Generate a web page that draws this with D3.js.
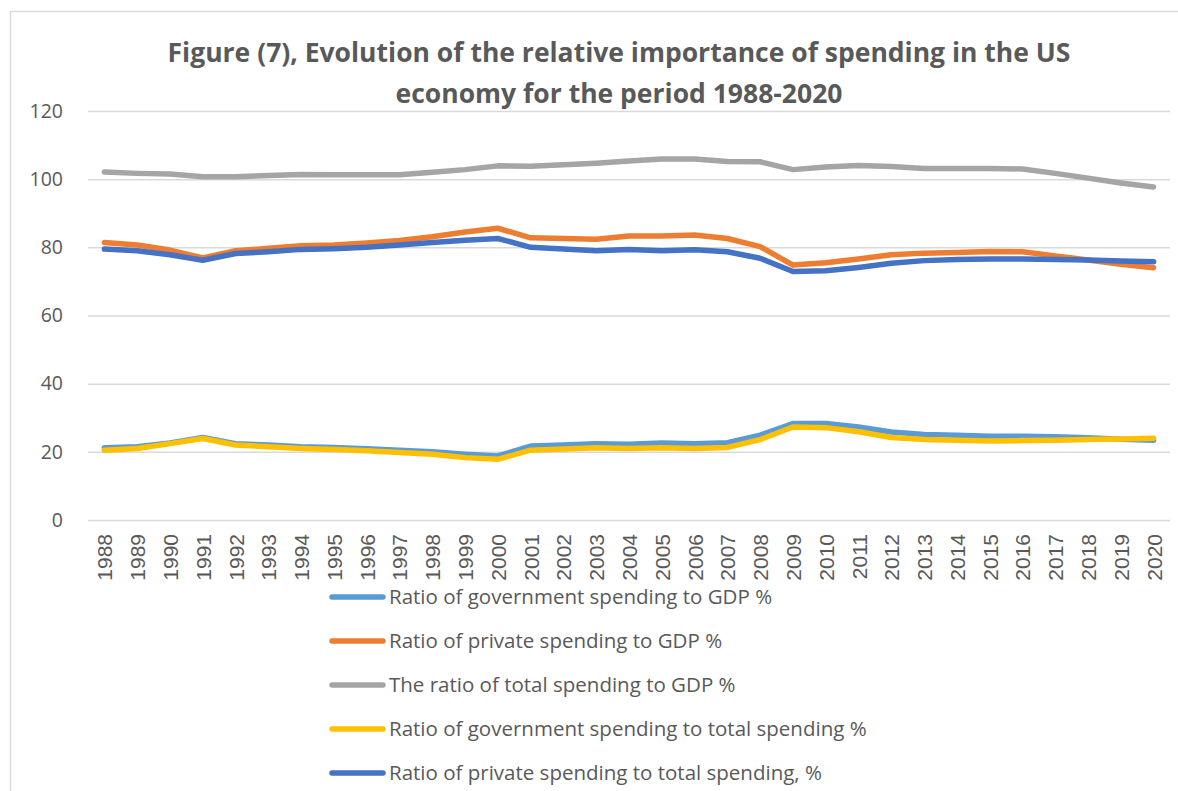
<!DOCTYPE html>
<html>
<head>
<meta charset="utf-8">
<script src="https://cdn.jsdelivr.net/npm/d3@7"></script>
<style>
  html, body { margin: 0; padding: 0; background: #fff; }
  svg { display: block; }
</style>
</head>
<body>
<svg id="chart" width="1178" height="791"></svg>
<script>
// Years on the category axis
const years = d3.range(1988, 2021).map(String);

// Ratio of government spending to GDP %
const govToGdp = [21.2, 21.5, 22.6, 24.2, 22.4, 22.0, 21.5, 21.3, 20.9, 20.5, 20.0, 19.3, 18.8,
  21.7, 22.0, 22.4, 22.2, 22.6, 22.4, 22.7, 24.9, 28.3, 28.3, 27.3, 25.8, 25.1, 24.9, 24.6, 24.6,
  24.4, 24.1, 23.7, 23.4];

// Ratio of private spending to GDP %
const privToGdp = [81.4, 80.7, 79.2, 76.9, 79.0, 79.7, 80.5, 80.7, 81.3, 82.0, 83.1, 84.5, 85.6,
  82.8, 82.6, 82.4, 83.3, 83.3, 83.6, 82.6, 80.2, 74.8, 75.5, 76.6, 77.8, 78.3, 78.5, 78.8, 78.7,
  77.5, 76.3, 75.0, 74.0];

// The ratio of total spending to GDP %
const totalToGdp = [102.1, 101.7, 101.5, 100.7, 100.7, 101.1, 101.4, 101.3, 101.3, 101.3, 102.0,
  102.8, 103.9, 103.8, 104.2, 104.7, 105.3, 105.9, 105.9, 105.2, 105.1, 102.8, 103.6, 104.0, 103.7,
  103.1, 103.1, 103.1, 103.0, 101.7, 100.3, 98.9, 97.7];

// Ratio of government spending to total spending %
const govToTotal = [20.5, 21.0, 22.4, 23.9, 22.0, 21.5, 21.0, 20.7, 20.3, 19.8, 19.3, 18.3, 17.8,
  20.5, 20.8, 21.2, 21.0, 21.2, 21.0, 21.3, 23.6, 27.3, 27.1, 25.9, 24.2, 23.6, 23.4, 23.2, 23.3,
  23.4, 23.6, 23.8, 24.0];

// Ratio of private spending to total spending, %
const privToTotal = [79.5, 79.0, 77.8, 76.2, 78.2, 78.7, 79.4, 79.6, 80.0, 80.7, 81.4, 82.1, 82.6,
  80.0, 79.5, 79.0, 79.4, 79.0, 79.3, 78.7, 76.8, 72.9, 73.1, 74.1, 75.3, 76.1, 76.4, 76.6, 76.6,
  76.4, 76.3, 76.0, 75.8];

const seriesNames = [
  "Ratio of government spending to GDP %",
  "Ratio of private spending to GDP %",
  "The ratio of total spending to GDP %",
  "Ratio of government spending to total spending %",
  "Ratio of private spending to total spending, %"
];
const seriesColors = ["#5B9BD5", "#ED7D31", "#A5A5A5", "#FFC000", "#4472C4"];
const yTicks = [0, 20, 40, 60, 80, 100, 120];
const titleLines = [
  "Figure (7), Evolution of the relative importance of spending in the US",
  "economy for the period 1988-2020"
];

const series = [govToGdp, privToGdp, totalToGdp, govToTotal, privToTotal].map((values, i) => ({
  name: seriesNames[i],
  color: seriesColors[i],
  values: values.map((v, j) => ({ year: years[j], value: v }))
}));

const svg = d3.select("#chart");
const textColor = "#595959";
const gridColor = "#D9D9D9";
const bodyFont = "'Open Sans', 'Noto Sans', sans-serif";

// Chart area frame
svg.append("rect")
  .attr("x", 10.5).attr("y", 11.5)
  .attr("width", 1200).attr("height", 800)
  .attr("fill", "#fff")
  .attr("stroke", gridColor).attr("stroke-width", 1.5);

// Title
svg.append("g").selectAll("text")
  .data(titleLines)
  .join("text")
  .attr("x", 619)
  .attr("y", (d, i) => 62 + i * 41)
  .attr("text-anchor", "middle")
  .attr("font-family", bodyFont)
  .attr("font-weight", "bold")
  .attr("font-size", 26.5)
  .attr("fill", textColor)
  .text(d => d);

const plot = { left: 88, right: 1170, top: 111, bottom: 520 };

const x = d3.scalePoint()
  .domain(years)
  .range([plot.left, plot.right])
  .padding(0.5);

const y = d3.scaleLinear()
  .domain([0, 120])
  .range([plot.bottom, plot.top]);

// Horizontal gridlines and value labels
const yAxis = d3.axisLeft(y)
  .tickValues(yTicks)
  .tickSize(-(plot.right - plot.left))
  .tickPadding(25);

const gy = svg.append("g")
  .attr("transform", `translate(${plot.left},0)`)
  .call(yAxis);
gy.select(".domain").remove();
gy.selectAll(".tick line")
  .attr("stroke", gridColor)
  .attr("stroke-width", 1.5);
gy.selectAll(".tick text")
  .attr("font-family", bodyFont)
  .attr("font-size", 19.5)
  .attr("fill", textColor);

// Category axis with rotated year labels
const xAxis = d3.axisBottom(x).tickSize(0).tickPadding(0);
const gx = svg.append("g")
  .attr("transform", `translate(0,${plot.bottom})`)
  .call(xAxis);
gx.select(".domain").remove();
gx.selectAll(".tick text")
  .attr("font-family", "'Liberation Sans', Arial, sans-serif")
  .attr("font-size", 21)
  .attr("fill", textColor)
  .attr("text-anchor", "end")
  .attr("dy", null)
  .attr("dominant-baseline", "central")
  .attr("transform", "translate(0,14) rotate(-90)")
  .attr("y", 0)
  .attr("x", 0);

// Series lines
const line = d3.line()
  .x(d => x(d.year))
  .y(d => y(d.value));

svg.append("g").selectAll("path")
  .data(series)
  .join("path")
  .attr("fill", "none")
  .attr("stroke", d => d.color)
  .attr("stroke-width", 5.5)
  .attr("stroke-linejoin", "round")
  .attr("stroke-linecap", "round")
  .attr("d", d => line(d.values));

// Legend
const legendY = d3.scalePoint().domain(seriesNames).range([597, 773]);
const legend = svg.append("g").selectAll("g")
  .data(series)
  .join("g")
  .attr("transform", d => `translate(0,${legendY(d.name)})`);

legend.append("line")
  .attr("x1", 332).attr("x2", 383)
  .attr("stroke", d => d.color)
  .attr("stroke-width", 5.5)
  .attr("stroke-linecap", "round");

legend.append("text")
  .attr("x", 389)
  .attr("dy", "0.36em")
  .attr("font-family", bodyFont)
  .attr("font-size", 20.5)
  .attr("fill", textColor)
  .text(d => d.name);
</script>
</body>
</html>
